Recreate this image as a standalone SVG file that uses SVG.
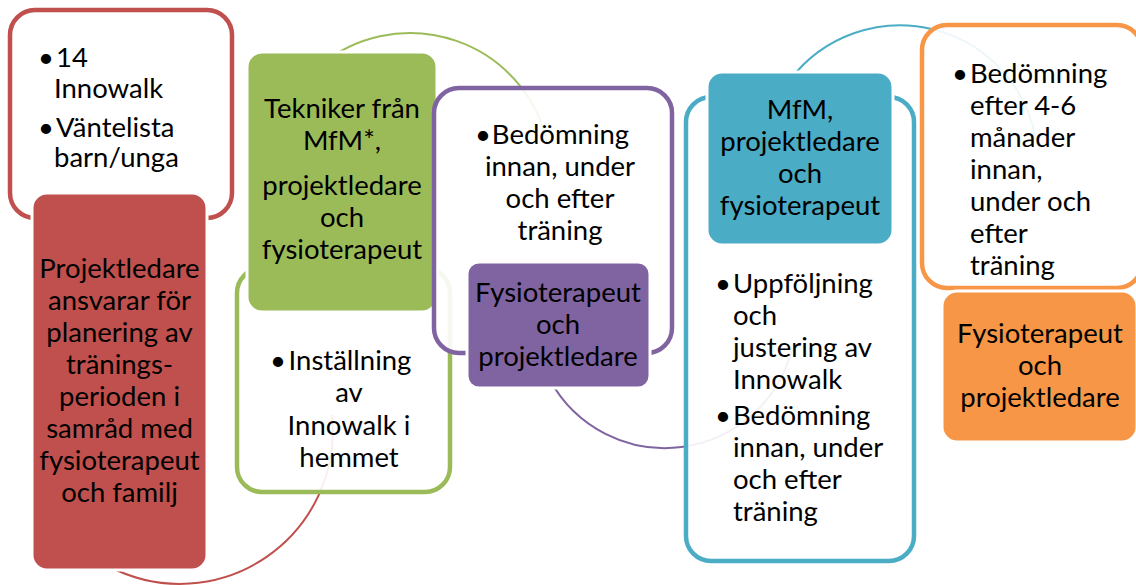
<svg xmlns="http://www.w3.org/2000/svg" width="1136" height="585" viewBox="0 0 1136 585">
<style>
.t{font-family:Lato,"Liberation Sans",sans-serif;font-size:27.5px;fill:#000}
.c{text-anchor:middle}
.b{text-anchor:end}
.ob{fill:#fff;fill-opacity:0.9;stroke-width:4.5}
.fb{stroke:#fff;stroke-width:3}
.arc{fill:none;stroke-width:2}
</style>
<rect width="1136" height="585" fill="#fff"/>
<g id="connectors">
<path class="arc" stroke="#C0504D" d="M110,567 A153,153 0 0 0 332,415"/>
<path class="arc" stroke="#9BBB59" d="M320,65.5 A141,141 0 0 1 548,145"/>
<path class="arc" stroke="#8064A2" d="M550,380 A131,131 0 0 0 792,349"/>
<path class="arc" stroke="#4BACC6" d="M790,80 A138,138 0 0 1 1036,140"/>
</g>
<g id="step1-detail">
<rect class="ob" stroke="#C0504D" x="10" y="10" width="222" height="208" rx="25"/>
<text class="t b"><tspan x="54" y="67">•</tspan><tspan x="54" y="137">•</tspan></text>
<text class="t"><tspan x="56" y="67">14</tspan><tspan x="54" y="98">Innowalk</tspan><tspan x="56" y="137">Väntelista</tspan><tspan x="54" y="167">barn/unga</tspan></text>
</g>
<g id="step1">
<rect class="fb" fill="#C0504D" x="32" y="193" width="175" height="377" rx="15"/>
<text class="t c"><tspan x="119.5" y="278">Projektledare</tspan><tspan x="119.5" y="310">ansvarar för</tspan><tspan x="119.5" y="342">planering av</tspan><tspan x="119.5" y="374">tränings-</tspan><tspan x="119.5" y="406">perioden i</tspan><tspan x="119.5" y="438">samråd med</tspan><tspan x="119.5" y="470">fysioterapeut</tspan><tspan x="119.5" y="502">och familj</tspan></text>
</g>
<g id="step2-detail">
<rect class="ob" stroke="#9BBB59" x="237" y="268" width="213" height="224" rx="25"/>
<text class="t b"><tspan x="286" y="370">•</tspan></text>
<text class="t c"><tspan x="350" y="370">Inställning</tspan><tspan x="349" y="402">av</tspan><tspan x="349" y="435">Innowalk i</tspan><tspan x="349" y="467">hemmet</tspan></text>
</g>
<g id="step2">
<rect class="fb" fill="#9BBB59" x="247" y="52" width="190" height="260" rx="15"/>
<text class="t c"><tspan x="342" y="118">Tekniker från</tspan><tspan x="342" y="150">MfM*,</tspan><tspan x="342" y="195">projektledare</tspan><tspan x="342" y="227">och</tspan><tspan x="342" y="259">fysioterapeut</tspan></text>
</g>
<g id="step3-detail">
<rect class="ob" stroke="#8064A2" x="434" y="88" width="238" height="265" rx="25"/>
<text class="t b"><tspan x="491" y="144">•</tspan></text>
<text class="t c"><tspan x="560.5" y="144">Bedömning</tspan><tspan x="560" y="176">innan, under</tspan><tspan x="560" y="208">och efter</tspan><tspan x="560" y="240">träning</tspan></text>
</g>
<g id="step3">
<rect class="fb" fill="#8064A2" x="467" y="262" width="183" height="126" rx="12"/>
<text class="t c"><tspan x="558" y="302">Fysioterapeut</tspan><tspan x="558" y="334">och</tspan><tspan x="558" y="366">projektledare</tspan></text>
</g>
<g id="step4-detail">
<rect class="ob" stroke="#4BACC6" x="686" y="97" width="228" height="464" rx="25"/>
<text class="t b"><tspan x="731" y="293">•</tspan><tspan x="731" y="425">•</tspan></text>
<text class="t"><tspan x="733" y="293">Uppföljning</tspan><tspan x="733" y="325">och</tspan><tspan x="733" y="357">justering av</tspan><tspan x="733" y="389">Innowalk</tspan><tspan x="733" y="425">Bedömning</tspan><tspan x="733" y="457">innan, under</tspan><tspan x="733" y="489">och efter</tspan><tspan x="733" y="521">träning</tspan></text>
</g>
<g id="step4">
<rect class="fb" fill="#4BACC6" x="707" y="72" width="186" height="173" rx="15"/>
<text class="t c"><tspan x="800" y="119">MfM,</tspan><tspan x="800" y="151">projektledare</tspan><tspan x="800" y="183">och</tspan><tspan x="800" y="215">fysioterapeut</tspan></text>
</g>
<g id="step5-detail">
<rect class="ob" stroke="#F79646" x="922" y="25" width="220" height="263" rx="25"/>
<text class="t b"><tspan x="968" y="83">•</tspan></text>
<text class="t"><tspan x="970" y="83">Bedömning</tspan><tspan x="970" y="115">efter 4-6</tspan><tspan x="970" y="147">månader</tspan><tspan x="970" y="179">innan,</tspan><tspan x="970" y="211">under och</tspan><tspan x="970" y="243">efter</tspan><tspan x="970" y="275">träning</tspan></text>
</g>
<g id="step5">
<rect class="fb" fill="#F79646" x="942" y="291" width="195" height="151" rx="15"/>
<text class="t c"><tspan x="1040" y="343">Fysioterapeut</tspan><tspan x="1040" y="375">och</tspan><tspan x="1040" y="407">projektledare</tspan></text>
</g>
</svg>
